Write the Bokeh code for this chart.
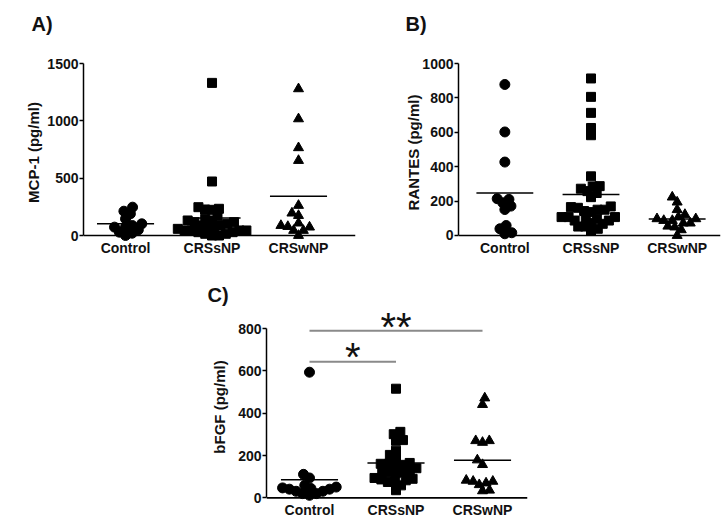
import numpy as np
from bokeh.plotting import figure
from bokeh.models import FixedTicker, Span, Label
from bokeh.layouts import row, column, Spacer
from bokeh.embed import file_html
from bokeh.resources import INLINE

# ---------------- data ----------------
groups = ["Control", "CRSsNP", "CRSwNP"]

mcp1_control = [247, 189, 212, 145, 73, 87, 102, 73, 29, 0, 20, 49]
mcp1_crssnp = [1331, 471, 233, 224, 247, 227, 102, 87, 116, 131, 131, 145, 116, 169,
               44, 29, 44, 58, 44, 58, 73, 87, 0, 15, 0, 15, 29, 44]
mcp1_crswnp = [1279, 1017, 765, 654, 262, 195, 174, 108, 78, 44, 0, 44, 73, 87]

rantes_control = [878, 602, 427, 210, 171, 151, 190, 214, 39, 10, 16, 58]
rantes_crssnp = [913, 806, 713, 583, 625, 344, 285, 258, 223, 247, 272, 287,
                 165, 150, 142, 136, 150, 161, 169, 107, 97, 87, 97, 107, 107,
                 68, 52, 39, 29, 52, 72, 87]
rantes_crswnp = [223, 194, 150, 107, 97, 87, 122, 97, 87, 49, 72, 72, 54, 33, 0]

bfgf_control = [594, 111, 94, 59, 51, 41, 31, 20, 12, 20, 31, 41, 47, 44]
bfgf_crssnp = [516, 301, 312, 270, 273, 223, 203, 187, 153, 165, 161, 156, 161, 140,
               122, 129, 122, 129, 118, 94, 83, 75, 59, 75, 87, 90, 36]
bfgf_crswnp = [472, 441, 270, 262, 270, 179, 157, 83, 78, 62, 36, 33, 70, 78]

ticks_a = [0, 500, 1000, 1500]
ticks_b = [0, 200, 400, 600, 800, 1000]
ticks_c = [0, 200, 400, 600, 800]

panel_titles = ["A)", "B)", "C)"]
y_titles = ["MCP-1 (pg/ml)", "RANTES (pg/ml)", "bFGF (pg/ml)"]

# significance brackets in panel C: (from group, to group, level, text)
sig_from = [1, 1]
sig_to = [3, 2]
sig_level = [790, 644]
sig_text = ["**", "*"]
sig_text_y = [810, 668]

FONT = "Liberation Sans"
MARKERS = ["circle", "square", "triangle"]
SIZES = [10, 9, 10]


def swarm(vals, xpx, ypx, D=7.0):
    """Deterministic beeswarm offsets (in x data units)."""
    vals = np.asarray(vals, float)
    order = np.argsort(vals, kind="stable")
    placed = []
    dx = np.zeros(len(vals))
    for k, i in enumerate(order):
        y = vals[i] * ypx
        cands = [0.0]
        for (px, py) in placed:
            d = abs(y - py)
            if d < D:
                w = np.sqrt(D * D - d * d)
                cands += [px - w, px + w]
        ok = [c for c in cands
              if all((c - px) ** 2 + (y - py) ** 2 >= D * D - 1e-6 for px, py in placed)]
        sgn = 1 if k % 2 else -1
        best = min(ok, key=lambda c: (round(abs(c), 4), -sgn * c))
        dx[i] = best
        placed.append((best, y))
    return dx / xpx


def title_fig(width, height, items):
    """A strip that only holds the panel letters; items = [(text, x, baseline_from_top)]."""
    t = figure(width=width, height=height, x_range=(0, 1), y_range=(0, 1),
               output_backend="svg", toolbar_location=None, title=None,
               x_axis_location=None, y_axis_location=None, min_border=0)
    t.outline_line_color = None
    t.xgrid.visible = False
    t.ygrid.visible = False
    for text, x, base in items:
        t.add_layout(Label(x=x, y=height - base, x_units="screen", y_units="screen",
                           text=text, text_font=FONT, text_font_style="bold",
                           text_font_size="20px", text_color="#111111",
                           text_baseline="alphabetic"))
    return t


def panel(width, height, mb, xr, yr, ybounds, yticks, ylabel, series,
          ylab_standoff, xlab_standoff):
    l, r, t, b = mb
    p = figure(width=width, height=height, x_range=xr, y_range=yr,
               output_backend="svg", toolbar_location=None, title=None,
               min_border_left=l, min_border_right=r, min_border_top=t, min_border_bottom=b)
    p.outline_line_color = None
    p.xgrid.visible = False
    p.ygrid.visible = False
    p.background_fill_color = "white"
    p.border_fill_color = "white"

    fw = width - l - r
    fh = height - t - b
    xpx = fw / (xr[1] - xr[0])
    ypx = fh / (yr[1] - yr[0])

    for gi, vals in enumerate(series):
        xs = (gi + 1) + swarm(vals, xpx, ypx)
        p.scatter(x=xs, y=vals, marker=MARKERS[gi], size=SIZES[gi],
                  fill_color="black", line_color="black")
    means = [float(np.mean(v)) for v in series]
    cx = np.arange(1, len(series) + 1)
    p.segment(x0=cx - 0.33, x1=cx + 0.33, y0=means, y1=means,
              line_color="black", line_width=1.5)

    p.add_layout(Span(location=0, dimension="width", line_color="black", line_width=1.6))

    ya = p.yaxis[0]
    ya.ticker = FixedTicker(ticks=yticks)
    ya.bounds = ybounds
    ya.axis_line_width = 1.5
    ya.major_tick_line_width = 1.5
    ya.major_tick_out = 4
    ya.major_tick_in = 0
    ya.minor_tick_line_color = None
    ya.major_label_standoff = 1
    ya.major_label_text_font = FONT
    ya.major_label_text_font_style = "bold"
    ya.major_label_text_font_size = "14px"
    ya.major_label_text_color = "#111111"
    ya.axis_label = ylabel
    ya.axis_label_text_font = FONT
    ya.axis_label_text_font_style = "bold"
    ya.axis_label_text_font_size = "15px"
    ya.axis_label_text_color = "#111111"
    ya.axis_label_standoff = ylab_standoff

    xa = p.xaxis[0]
    xa.ticker = FixedTicker(ticks=[1, 2, 3])
    xa.major_label_overrides = {i + 1: g for i, g in enumerate(groups)}
    xa.axis_line_color = None
    xa.major_tick_line_color = None
    xa.minor_tick_line_color = None
    xa.major_tick_out = 0
    xa.major_tick_in = 0
    xa.major_label_standoff = xlab_standoff
    xa.major_label_text_font = FONT
    xa.major_label_text_font_style = "bold"
    xa.major_label_text_font_size = "14px"
    xa.major_label_text_color = "#111111"
    return p


tTop = title_fig(722, 40, [(panel_titles[0], 31, 23), (panel_titles[1], 405, 23)])
tMid = title_fig(538, 50, [(panel_titles[2], 207, 36)])

pA = panel(360, 218, (83, 5, 23, 17), (0.514, 3.659), (-52.3, 1500), (0, 1500), ticks_a,
           y_titles[0], [mcp1_control, mcp1_crssnp, mcp1_crswnp], 2, -2)
pB = panel(362, 218, (98, 2, 23, 17), (0.462, 3.503), (-34.9, 1000), (0, 1000), ticks_b,
           y_titles[1], [rantes_control, rantes_crssnp, rantes_crswnp], -3, -2)
pC = panel(380, 212, (108, 11, 3, 16), (0.503, 3.52), (-22, 881), (0, 800), ticks_c,
           y_titles[2], [bfgf_control, bfgf_crssnp, bfgf_crswnp], 7, -1)

for f, t, lv, txt, ty in zip(sig_from, sig_to, sig_level, sig_text, sig_text_y):
    pC.segment(x0=[f], x1=[t], y0=[lv], y1=[lv], line_color="#8a8a8a", line_width=2)
    pC.add_layout(Label(x=(f + t) / 2, y=ty, text=txt, text_font=FONT,
                        text_font_size="40px", text_color="#111111",
                        text_align="center", text_baseline="alphabetic"))

layout = column(
    tTop,
    row(pA, pB),
    tMid,
    row(Spacer(width=158, height=212), pC),
)

open("out.html", "w").write(file_html(layout, INLINE))
